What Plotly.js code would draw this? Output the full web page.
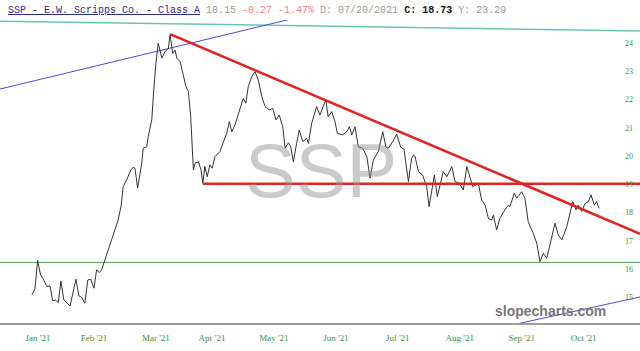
<!DOCTYPE html>
<html>
<head>
<meta charset="utf-8">
<script src="https://cdn.plot.ly/plotly-3.0.1.min.js"></script>
<style>html,body{margin:0;padding:0;background:#fff;}#chart{width:640px;height:351px;}</style>
</head>
<body>
<div id="chart"></div>
<script>
// trading-day position (0 = first session shown) and closing price
const day = [0,1.0,1.9,2.9,3.8,5.0,6.1,7.0,7.9,8.9,9.8,10.8,12.9,14.9,15.9,16.8,17.9,18.9,19.9,21.0,
  21.9,22.8,23.6,24.7,27.0,28.1,29.2,30.2,30.9,32.1,33.5,34.3,34.9,35.8,37.2,37.7,38.9,39.4,40.6,41.1,
  42.0,42.8,44.0,45.1,46.2,46.8,47.7,48.5,49.1,50.2,51.1,52.2,53.0,53.8,54.7,55.3,56.4,57.3,57.9,58.6,
  59.4,60.3,61.1,62.0,63.7,64.8,66.0,66.9,67.7,68.8,69.9,71.6,72.5,73.3,74.5,75.6,76.7,77.9,79.0,80.4,
  81.6,82.7,83.8,85.0,85.8,86.9,87.7,88.6,89.7,90.6,91.8,93.1,93.7,94.8,96.5,97.6,98.7,99.6,100.4,101.6,
  102.7,103.5,105.3,106.7,107.6,108.4,109.5,110.6,112.1,113.5,114.6,115.7,117.4,118.9,120.0,120.8,122.3,123.6,125.0,126.1,
  127.6,128.7,129.3,129.8,131.0,132.4,133.8,134.6,136.4,137.4,139.4,140.6,142.3,143.4,144.8,146.2,147.4,149.4,151.3,152.4,
  153.6,154.7,155.8,156.4,157.5,158.6,160.3,161.5,162.0,163.5,164.3,166.0,167.1,168.2,169.9,171.1,172.2,173.3,174.5,175.9,
  177.3,178.4,179.6,181.3,182.4,183.3,184.4,185.2,186.3,187.5,188.6,189.5,190.6,191.4,192.2];
const close = [15.09,15.31,16.31,15.80,15.66,15.39,15.41,14.89,14.91,14.82,15.58,14.91,14.70,15.65,15.06,15.01,14.80,15.62,15.65,15.33,
  15.98,15.88,15.98,16.33,17.04,17.46,17.74,18.24,18.92,19.16,19.51,19.61,19.57,18.87,19.75,20.28,20.33,20.69,21.28,22.10,
  23.28,23.99,23.46,23.69,23.81,24.28,23.63,23.75,23.46,23.34,22.93,22.45,22.28,21.39,19.51,19.75,19.80,19.51,19.04,19.63,
  19.27,19.69,19.57,19.98,20.16,20.51,20.81,21.22,20.86,21.10,21.45,22.04,21.87,22.45,22.81,22.98,22.69,22.10,21.75,21.63,
  21.69,21.28,21.45,21.04,20.28,20.47,20.33,19.80,20.45,20.92,20.51,20.63,20.45,21.16,21.75,21.45,21.75,21.98,21.39,21.57,
  21.22,20.81,20.75,20.86,21.04,20.75,21.04,20.33,20.28,19.98,19.22,19.86,20.16,20.86,20.31,20.28,20.51,20.78,20.31,20.24,
  19.10,19.92,20.04,20.00,19.45,19.33,18.92,18.21,19.33,18.57,19.45,19.27,19.63,19.10,19.04,18.80,19.63,18.92,19.04,18.45,
  18.27,17.80,17.74,17.92,17.39,17.80,18.10,18.27,18.21,18.69,18.51,18.74,18.51,17.68,17.27,16.92,16.27,16.57,16.39,17.04,
  17.63,17.21,17.04,17.51,18.04,18.39,18.10,18.27,18.04,18.33,18.39,18.63,18.27,18.39,18.15];

// month tick positions and labels
const monthTicks = [2,21,42,61,82,103,124,145,166,187];
const monthLabels = ["Jan '21","Feb '21","Mar '21","Apr '21","May '21","Jun '21","Jul '21","Aug '21","Sep '21","Oct '21"];
const priceTicks = [15,16,17,18,19,20,21,22,23,24];

// drawn trendlines (endpoints in day / price units)
const tealX = [-10.85, 206.1], tealY = [24.77, 24.42];
const blueUpX = [-10.85, 90.8], blueUpY = [22.37, 24.92];
const blueLowX = [162.7, 206.1], blueLowY = [14.03, 15.02];
const redDownX = [46.8, 206.1], redDownY = [24.31, 17.25];
const redFlatX = [57.9, 206.1], redFlatY = [19.02, 19.02];
const greenX = [-10.85, 206.1], greenY = [16.24, 16.24];

const line = (x, y, color, width) => ({x, y, type:'scatter', mode:'lines', line:{color, width}, hoverinfo:'skip', showlegend:false, cliponaxis:true});

const traces = [
  line(greenX, greenY, '#5aa05a', 1),
  line(tealX, tealY, '#6cc2b8', 1.5),
  line(blueUpX, blueUpY, '#4a4ae0', 1),
  line(blueLowX, blueLowY, '#4a4ae0', 1),
  {x: day, y: close, type:'scatter', mode:'lines', line:{color:'#333333', width:1}, showlegend:false},
  line(redDownX, redDownY, '#e02424', 2.6),
  line(redFlatX, redFlatY, '#e02424', 2.6)
];

const header = '<u>SSP - E.W. Scripps Co. - Class A</u> ' +
  '<span style="color:#9a9a9a">18.15</span> ' +
  '<span style="color:#ee8080">-0.27 -1.47%</span> ' +
  '<span style="color:#9a9a9a">D: 07/20/2021</span> ' +
  '<span style="color:#111111"><b>C: 18.73</b></span> ' +
  '<span style="color:#9a9a9a">Y: 23.29</span>';

const layout = {
  width: 640, height: 351,
  margin: {l:0, r:0, t:20, b:28, pad:0},
  paper_bgcolor:'#ffffff', plot_bgcolor:'#ffffff',
  showlegend:false,
  xaxis: {range:[-10.85, 206.1], showgrid:false, zeroline:false, showline:true, linecolor:'#9a9a9a', linewidth:1.5,
    tickmode:'array', tickvals: monthTicks, ticktext: monthLabels, ticks:'outside', ticklen:6, tickcolor:'rgba(0,0,0,0)',
    tickfont:{family:'Liberation Serif, serif', size:9, color:'#3c8f3c'}, fixedrange:true},
  yaxis: {range:[14.1, 24.81], side:'right', showgrid:false, zeroline:false, showline:false,
    tickmode:'array', tickvals: priceTicks, ticks:'', ticklabelposition:'inside', ticklabelstandoff:4,
    tickfont:{family:'Liberation Serif, serif', size:8, color:'#3c8f3c'}, fixedrange:true},
  annotations: [
    {xref:'paper', yref:'paper', x:0.0094, y:1.033, xanchor:'left', yanchor:'middle', showarrow:false,
     text: header, font:{family:'Liberation Mono, monospace', size:10, color:'#2b2b8c'}},
    {xref:'paper', yref:'paper', x:321/640, y:1-(171-20)/303, xanchor:'center', yanchor:'middle', showarrow:false,
     text:'SSP', font:{family:'Liberation Sans, Arial, sans-serif', size:76, color:'rgba(150,150,150,0.5)'}},
    {xref:'paper', yref:'paper', x:550/640, y:1-(311-20)/303, xanchor:'center', yanchor:'middle', showarrow:false,
     text:'<b>slopecharts.com</b>', font:{family:'Liberation Sans, Arial, sans-serif', size:14, color:'#777777'}}
  ]
};

Plotly.newPlot('chart', traces, layout, {staticPlot:true, displayModeBar:false});
</script>
</body>
</html>
